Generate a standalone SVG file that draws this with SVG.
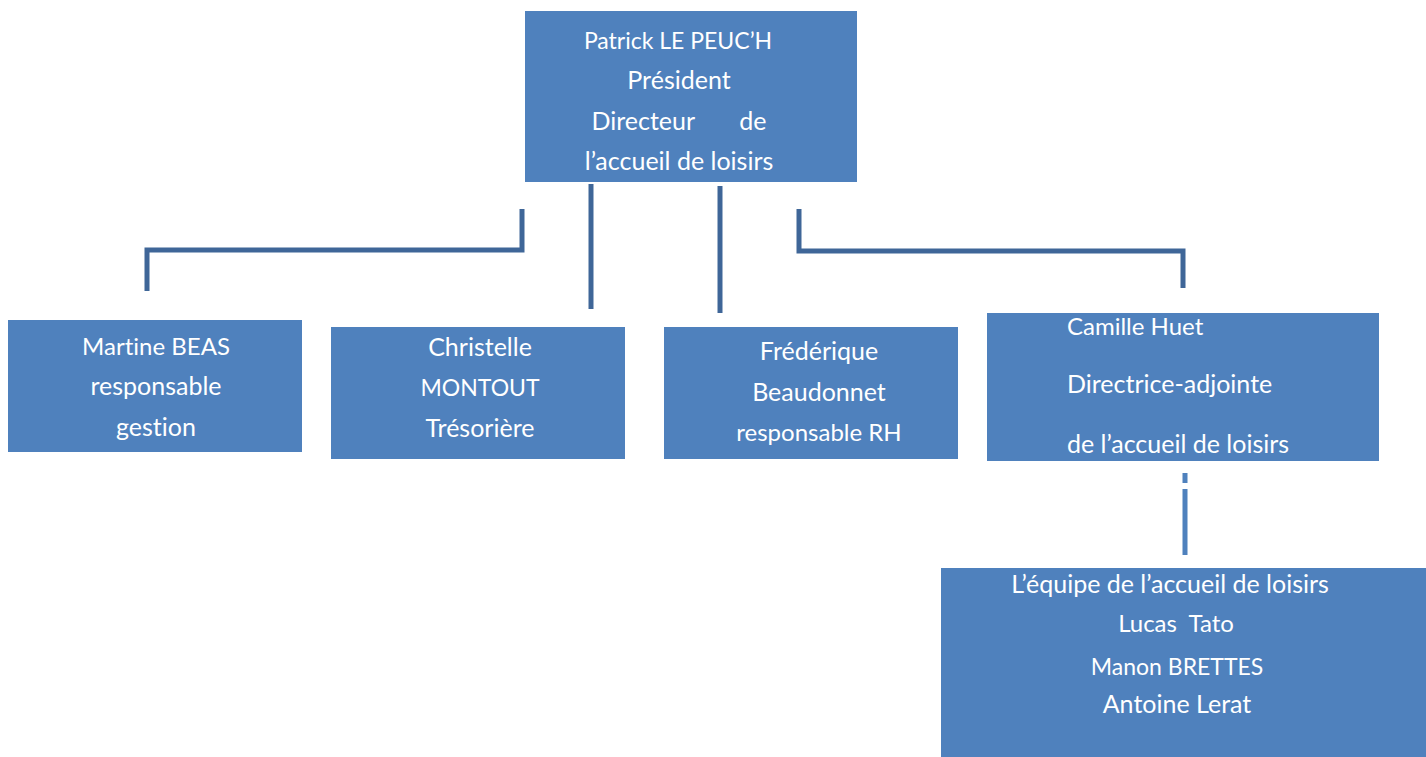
<svg xmlns="http://www.w3.org/2000/svg" width="1426" height="757" viewBox="0 0 1426 757">
<style>
.box{fill:#4F81BD}
.t{font-family:Lato,"Liberation Sans",sans-serif;font-size:25px;fill:#ffffff;text-anchor:middle;font-variant-ligatures:none}
.tl{text-anchor:start}
.s24{font-size:24px}
.s23{font-size:23px}
.c{stroke:#3F6698;stroke-width:5;fill:none}
.c2{stroke:#4F81BD;stroke-width:5;fill:none}
</style>
<rect width="1426" height="757" fill="#ffffff"/>
<g id="connectors">
<path class="c" d="M522,209 V250 H147 V291"/>
<path class="c" d="M591,184 V309"/>
<path class="c" d="M720,186 V313"/>
<path class="c" d="M799,209 V251 H1183 V288"/>
<path class="c2" d="M1185,473 V483 M1185,489 V555"/>
</g>
<g id="president">
<rect class="box" x="525" y="11" width="332" height="171"/>
<text class="t s23" x="678" y="49">Patrick LE PEUC’H</text>
<text class="t" x="679" y="89">Président</text>
<text class="t" x="679" y="130" xml:space="preserve">Directeur       de</text>
<text class="t" x="679" y="170">l’accueil de loisirs</text>
</g>
<g id="martine">
<rect class="box" x="8" y="320" width="294" height="132"/>
<text class="t s24" x="156" y="355">Martine BEAS</text>
<text class="t" x="156" y="395">responsable</text>
<text class="t" x="156" y="436">gestion</text>
</g>
<g id="christelle">
<rect class="box" x="331" y="327" width="294" height="132"/>
<text class="t" x="480" y="356">Christelle</text>
<text class="t s23" x="480" y="396">MONTOUT</text>
<text class="t" x="480" y="437">Trésorière</text>
</g>
<g id="frederique">
<rect class="box" x="664" y="327" width="294" height="132"/>
<text class="t" x="819" y="360">Frédérique</text>
<text class="t" x="819" y="401">Beaudonnet</text>
<text class="t s24" x="819" y="441">responsable RH</text>
</g>
<g id="camille">
<rect class="box" x="987" y="313" width="392" height="148"/>
<text class="t tl s24" x="1067" y="335">Camille Huet</text>
<text class="t tl" x="1067" y="393">Directrice-adjointe</text>
<text class="t tl" x="1067" y="453">de l’accueil de loisirs</text>
</g>
<g id="equipe">
<rect class="box" x="941" y="568" width="485" height="189"/>
<text class="t" x="1170" y="593">L’équipe de l’accueil de loisirs</text>
<text class="t s24" x="1176" y="632" xml:space="preserve">Lucas  Tato</text>
<text class="t s23" x="1177" y="675">Manon BRETTES</text>
<text class="t" x="1177" y="713">Antoine Lerat</text>
</g>
</svg>
